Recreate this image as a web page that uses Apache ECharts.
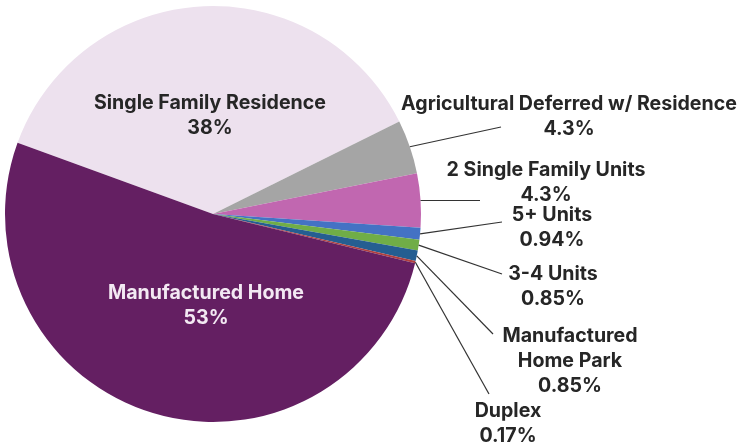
<!DOCTYPE html>
<html>
<head>
<meta charset="utf-8">
<title>Property types</title>
<script src="https://cdn.jsdelivr.net/npm/echarts@6/dist/echarts.min.js"></script>
<style>
    html, body { margin: 0; padding: 0; background: #fff; }
    #chart { width: 741px; height: 447px; }
</style>
</head>
<body>
<div id="chart"></div>
<script>
    // categories & shares (%), clockwise from the left boundary
    var categories = ['Single Family Residence', 'Agricultural Deferred w/ Residence', '2 Single Family Units',
        '5+ Units', '3-4 Units', 'Manufactured Home Park', 'Duplex', 'Manufactured Home'];
    var labelNames = ['Single Family Residence', 'Agricultural Deferred w/ Residence', '2 Single Family Units',
        '5+ Units', '3-4 Units', 'Manufactured\nHome Park', 'Duplex', 'Manufactured Home'];
    var shares = [38, 4.3, 4.3, 0.94, 0.85, 0.85, 0.17, 53];

    var colors = ['#ede1ee', '#a5a5a5', '#c167b0', '#4472c4', '#70ad47', '#255e91', '#b03f3f', '#641f62'];

    // where each label block sits (centre) and where its leader line ends
    var labelSpots = [[210, 116], [569, 117], [546, 183], [552, 228], [553, 287], [570, 361], [508, 424], [206, 306]];
    var lineEnds = [null, [501, 127], [480, 198], [502, 222], [502, 274], [493, 334], [489, 394], null];
    // leader lines that run flat (horizontal) out of their slice
    var flatLines = [false, false, true, false, false, false, false, false];

    var data = categories.map(function (c, i) {
        var item = {name: labelNames[i], value: shares[i], itemStyle: {color: colors[i]}};
        if (i === 7) {
            item.label = {color: '#f3e9f3'};
        }
        return item;
    });

    var chart = echarts.init(document.getElementById('chart'));
    chart.setOption({
        animation: false,
        series: [{
            type: 'pie',
            center: [213, 214],
            radius: 208,
            startAngle: 160,
            clockwise: true,
            avoidLabelOverlap: false,
            minShowLabelAngle: 0,
            itemStyle: {borderWidth: 0},
            label: {
                show: true,
                position: 'outside',
                formatter: function (p) { return p.name + '\n' + p.value + '%'; },
                fontFamily: 'Inter',
                fontWeight: 'bold',
                fontSize: 19.6,
                lineHeight: 25,
                color: '#262626',
                align: 'center'
            },
            labelLine: {show: false},
            labelLayout: function (params) {
                var i = params.dataIndex;
                return {
                    x: labelSpots[i][0],
                    y: labelSpots[i][1],
                    align: 'center',
                    verticalAlign: 'middle'
                };
            },
            data: data
        }]
    });

    // leader lines: from the slice's outer edge (mid angle, taken from the pie layout) to the label
    var pieData = chart.getModel().getSeriesByIndex(0).getData();
    var leaders = [];
    lineEnds.forEach(function (e, i) {
        if (!e) return;
        var lay = pieData.getItemLayout(i);
        var mid = (lay.startAngle + lay.endAngle) / 2;
        var sx = lay.cx + lay.r * Math.cos(mid);
        var sy = lay.cy + lay.r * Math.sin(mid);
        var end = [e[0], e[1]];
        var width = 1.2;
        if (flatLines[i]) {
            // keep it on one pixel row so it draws crisp
            sy = Math.floor(sy) + 0.5;
            end[1] = sy;
            width = 1;
        }
        leaders.push({
            type: 'polyline',
            z: 10,
            silent: true,
            shape: {points: [[sx, sy], end]},
            style: {stroke: '#333', lineWidth: width, fill: null}
        });
    });
    chart.setOption({graphic: leaders});
</script>
</body>
</html>
